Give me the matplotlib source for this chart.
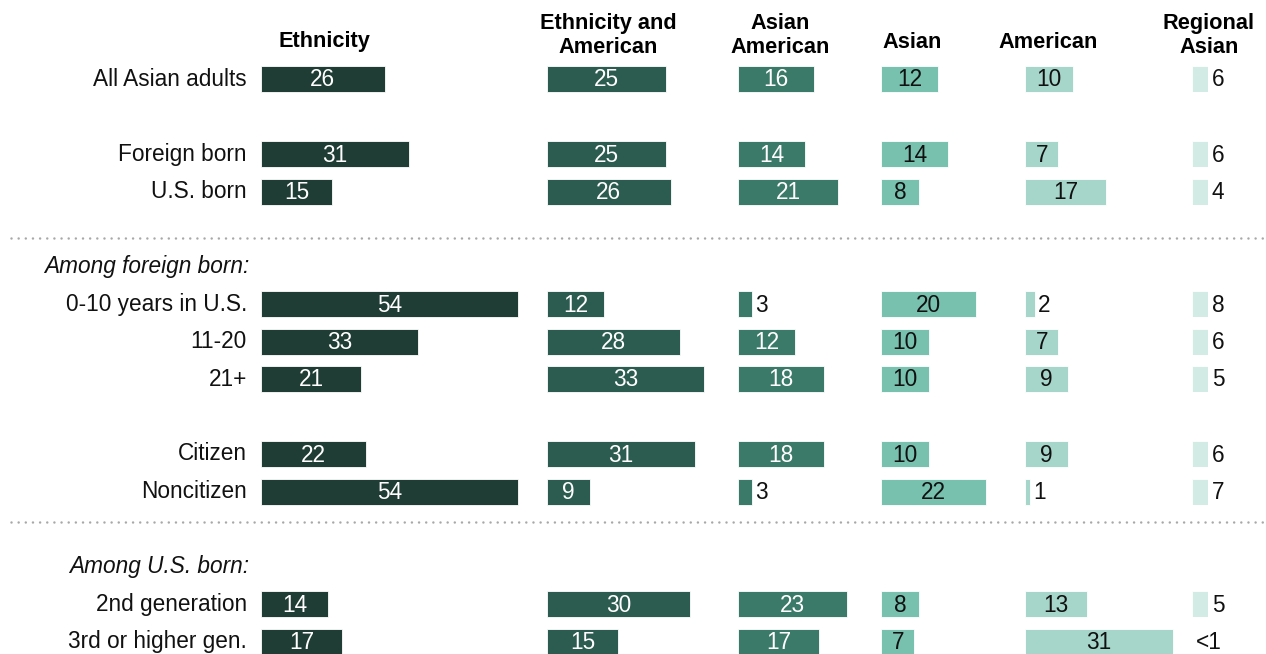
import matplotlib
matplotlib.use("Agg")
import matplotlib.pyplot as plt
from matplotlib.patches import Rectangle

plt.rcParams["font.family"] = ["Liberation Sans", "DejaVu Sans"]

# ---- data -------------------------------------------------------------
rows = ["All Asian adults", "Foreign born", "U.S. born",
        "0-10 years in U.S.", "11-20", "21+",
        "Citizen", "Noncitizen",
        "2nd generation", "3rd or higher gen."]
row_slots = [0, 2, 3, 6, 7, 8, 10, 11, 14, 15]
section_labels = ["Among foreign born:", "Among U.S. born:"]
section_slots = [5, 13]

column_titles = ["Ethnicity", "Ethnicity and\nAmerican", "Asian\nAmerican",
                 "Asian", "American", "Regional\nAsian"]

ethnicity = [26, 31, 15, 54, 33, 21, 22, 54, 14, 17]
ethnicity_american = [25, 25, 26, 12, 28, 33, 31, 9, 30, 15]
asian_american = [16, 14, 21, 3, 12, 18, 18, 3, 23, 17]
asian = [12, 14, 8, 20, 10, 10, 10, 22, 8, 7]
american = [10, 7, 17, 2, 7, 9, 9, 1, 13, 31]
regional_asian = [6, 6, 4, 8, 6, 5, 6, 7, 5, 0]
regional_labels = ["6", "6", "4", "8", "6", "5", "6", "7", "5", "<1"]

# ---- layout -------------------------------------------------------------
W, H = 1266, 654
fig = plt.figure(figsize=(W / 100, H / 100), dpi=100)
ax = fig.add_axes([0, 0, 1, 1])
ax.set_xlim(0, W)
ax.set_ylim(H, 0)
ax.axis("off")

px_per_pt = 4.76          # bar length per percentage point
row_top = 79
row_step = 37.5
bar_h = 26
fs = 16.3

col_left = [261, 547, 738, 881, 1025, 1192]
title_x = [324, 608, 780, 912, 1048, 1209]
colors = ["#1f3d34", "#2c5c4f", "#3b7a68", "#77c1ae", "#a6d5c9", "#d2ebe5"]
text_in = ["white", "white", "white", "#111111", "#111111", "#111111"]
regional_cap = 16          # regional column is drawn inside a narrow strip

series = [ethnicity, ethnicity_american, asian_american, asian, american,
          regional_asian]


def ypos(slot):
    return row_top + row_step * slot


# column headers
for x, t in zip(title_x, column_titles):
    yc = 42 if "\n" not in t else 35.5
    ax.text(x, yc, t, ha="center", va="center", fontsize=15.7,
            fontweight="bold", linespacing=1.2, color="black")

# row labels
for r, s in zip(rows, row_slots):
    ax.text(247, ypos(s), r, ha="right", va="center", fontsize=fs,
            color="#111111")
for r, s in zip(section_labels, section_slots):
    ax.text(249, ypos(s), r, ha="right", va="center", fontsize=fs,
            style="italic", color="#111111")

# bars + value labels
for ci, vals in enumerate(series):
    left = col_left[ci]
    ys = [ypos(s) for s in row_slots]
    widths = [v * px_per_pt for v in vals]
    bars = ax.barh(ys, widths, left=left, height=bar_h, color=colors[ci],
                   edgecolor="white", linewidth=0.6)
    for i, (b, v, y, w) in enumerate(zip(bars, vals, ys, widths)):
        if ci == 5:
            clip = Rectangle((left, y - bar_h / 2), regional_cap, bar_h,
                             transform=ax.transData)
            b.set_clip_path(clip)
            shown = min(w, regional_cap)
            ax.text(left + shown + 4, y + 1, regional_labels[i], ha="left",
                    va="center", fontsize=fs, color="#111111")
        elif v >= 5:
            ax.text(left + w / 2, y + 1, str(v), ha="center", va="center",
                    fontsize=fs, color=text_in[ci])
        else:
            ax.text(left + w + 3, y + 1, str(v), ha="left", va="center",
                    fontsize=fs, color="#111111")

# dotted separators
for yy in (238, 522):
    ax.plot([11, W], [yy, yy], color="#a8a8a8", linewidth=1.8,
            linestyle=(0, (0.01, 2.85)), dash_capstyle="round")

fig.savefig("out.png", dpi=100)
